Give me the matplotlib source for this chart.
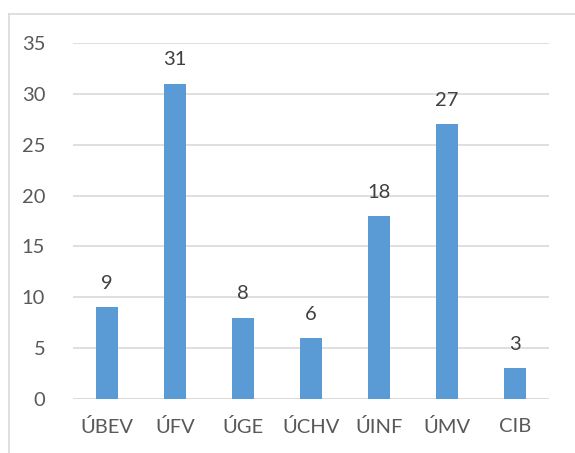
import matplotlib
matplotlib.use("Agg")
import matplotlib.pyplot as plt
from matplotlib.lines import Line2D

categories = ["ÚBEV", "ÚFV", "ÚGE", "ÚCHV", "ÚINF", "ÚMV", "CIB"]
values = [9, 31, 8, 6, 18, 27, 3]
yticks = [0, 5, 10, 15, 20, 25, 30, 35]

plt.rcParams['font.family'] = ['Lato', 'DejaVu Sans']
W, H = 575, 453
fig = plt.figure(figsize=(W/100, H/100), dpi=100)
ax = fig.add_axes([73/W, 1-399/H, (549-73)/W, (399-43)/H])

x = list(range(len(categories)))
bars = ax.bar(x, values, width=0.32, color="#5B9BD5", zorder=3)
for xi, v in zip(x, values):
    ax.text(xi, v + 1.5, str(v), ha='center', va='bottom', fontsize=14.5, color="#404040")

ax.set_xlim(-0.5, len(categories) - 0.5)
ax.set_ylim(0, 35)
ax.set_yticks(yticks)
ax.set_xticks(x)
ax.set_xticklabels(categories)
ax.yaxis.grid(True, color="#D9D9D9", linewidth=1.2, zorder=0)
for s in ax.spines.values():
    s.set_visible(False)
ax.axhline(0, color="#D9D9D9", linewidth=1.2, zorder=2)
ax.tick_params(axis='both', length=0, labelsize=14.5, colors="#595959")
ax.tick_params(axis='y', pad=20)
ax.tick_params(axis='x', pad=14)

# outer chart border (top and left)
fig.add_artist(Line2D([9/W, 9/W], [0, 1-14/H], color="#D9D9D9", linewidth=1.2, transform=fig.transFigure))
fig.add_artist(Line2D([9/W, 1], [1-14/H, 1-14/H], color="#D9D9D9", linewidth=1.2, transform=fig.transFigure))

fig.savefig("out.png", dpi=100)
